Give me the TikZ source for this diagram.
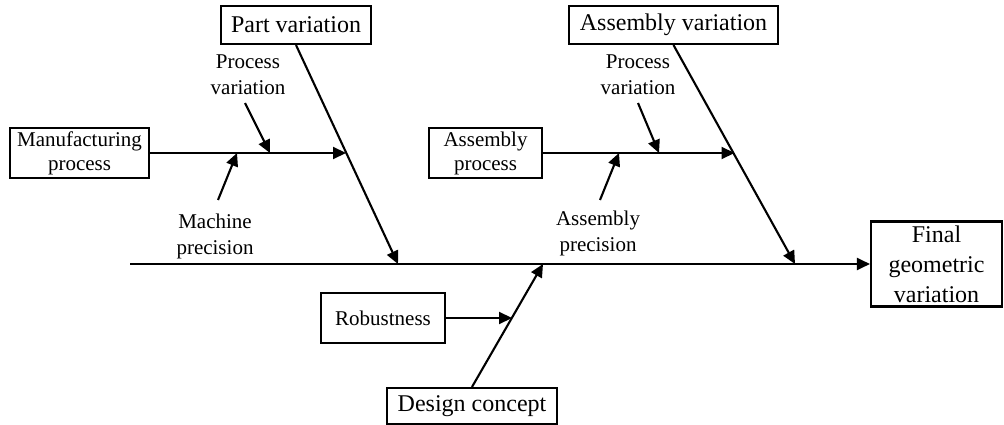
\documentclass[tikz,border=0pt]{standalone}
\usepackage{fontspec}
\setmainfont{Liberation Serif}
\usetikzlibrary{arrows.meta}
\begin{document}
\begin{tikzpicture}[x=1pt,y=-1pt,
  line width=2.1pt,
  box/.style={draw, line width=2.1pt, inner sep=0pt, align=center},
  bigtxt/.style={font=\fontsize{24}{29}\selectfont},
  smalltxt/.style={font=\fontsize{21}{26}\selectfont},
  lbl/.style={smalltxt, align=center, inner sep=0pt},
  arr/.style={-{Triangle[length=13pt,width=12pt]}}]
\useasboundingbox (0,0) rectangle (1004,425);

% category boxes
\node[box,bigtxt,minimum width=150,minimum height=38] (pv) at (296,25) {Part variation};
\node[box,bigtxt,minimum width=209,minimum height=38] (av) at (673.5,25) {Assembly variation};
\node[box,smalltxt,minimum width=139,minimum height=50] (mp) at (79.5,153) {Manufacturing\\[-2pt]process};
\node[box,smalltxt,minimum width=113,minimum height=50] (ap) at (485.5,153) {Assembly\\[-2pt]process};
\node[box,smalltxt,minimum width=124,minimum height=50] (rb) at (383,318) {Robustness};
\node[box,bigtxt,minimum width=170,minimum height=36] (dc) at (472,406) {Design concept};
\node[box,bigtxt,minimum width=131,minimum height=85] (fg) at (936.5,264) {Final\\[1pt]geometric\\[1pt]variation};

% free labels
\node[lbl] (pvl1) at (248,75) {Process\\variation};
\node[lbl] (pvl2) at (638,75) {Process\\variation};
\node[lbl] (mpl) at (215,236) {Machine\\precision};
\node[lbl] (apl) at (598,233) {Assembly\\precision};

% spine and bone coordinates
\coordinate (tail) at (130,264);
\coordinate (pvEnd) at (398,264);
\coordinate (avEnd) at (795,264);
\coordinate (dcEnd) at (543,264);
\coordinate (pvJ) at (346,153);
\coordinate (avJ) at (734.5,153);
\coordinate (dcJ) at (512,318);
\coordinate (mpJ1) at (237,153);
\coordinate (mpJ2) at (270,153);
\coordinate (apJ1) at (619,153);
\coordinate (apJ2) at (659,153);
\coordinate (pvl1s) at (245,103);
\coordinate (pvl2s) at (638,103);
\coordinate (mpls) at (218,200);
\coordinate (apls) at (600,200);

% main spine
\draw[arr] (tail) -- (fg.west);

% main bones
\draw[arr] (pv.south) -- (pvEnd);
\draw[arr] (av.south) -- (avEnd);
\draw[arr] (dc.north) -- (dcEnd);

% sub-bones
\draw[arr] (mp.east) -- (pvJ);
\draw[arr] (ap.east) -- (avJ);
\draw[arr] (rb.east) -- (dcJ);

% contributing causes
\draw[arr] (pvl1s) -- (mpJ2);
\draw[arr] (mpls) -- (mpJ1);
\draw[arr] (pvl2s) -- (apJ2);
\draw[arr] (apls) -- (apJ1);
\end{tikzpicture}
\end{document}
